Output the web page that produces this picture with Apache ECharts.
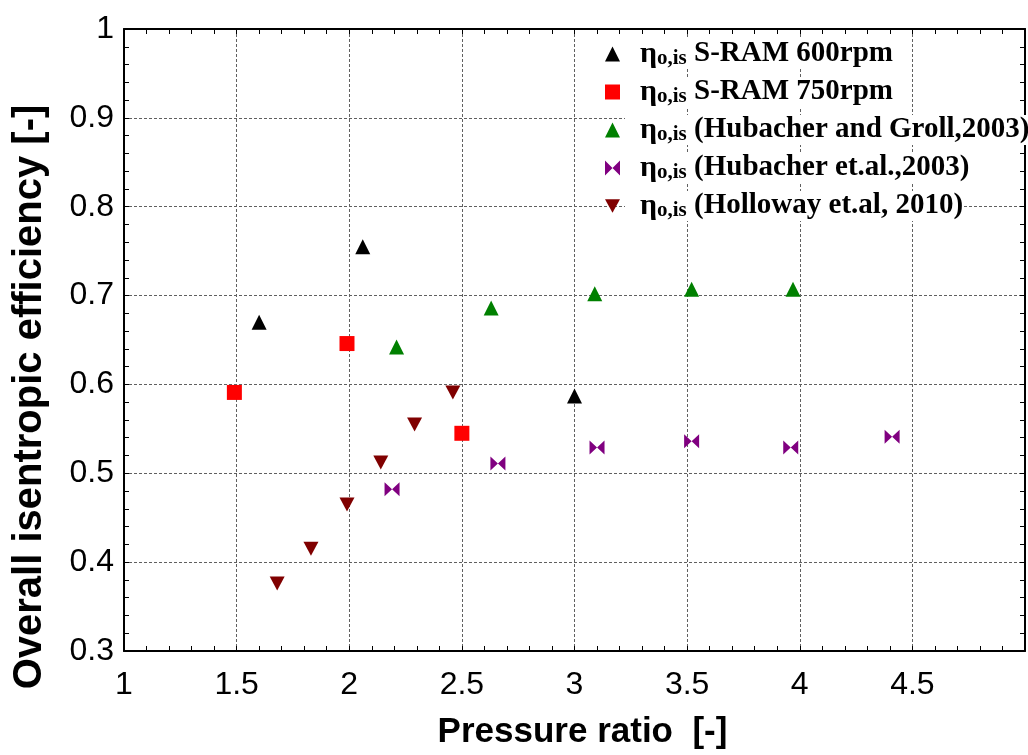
<!DOCTYPE html>
<html>
<head>
<meta charset="utf-8">
<script src="https://cdn.jsdelivr.net/npm/echarts@6/dist/echarts.min.js"></script>
<style>html,body{margin:0;padding:0;background:#fff;}#c{width:1028px;height:755px;}</style>
</head>
<body>
<div id="c"></div>
<script>
// ---- data ----
const seriesNames = ['S-RAM 600rpm', 'S-RAM 750rpm', '(Hubacher and Groll,2003)', '(Hubacher et.al.,2003)', '(Holloway et.al, 2010)'];
const sram600 = [[1.60, 0.670], [2.06, 0.755], [3.00, 0.587]];
const sram750 = [[1.49, 0.591], [1.99, 0.646], [2.50, 0.545]];
const hubacherGroll = [[2.21, 0.642], [2.63, 0.686], [3.09, 0.702], [3.52, 0.707], [3.97, 0.707]];
const hubacherEtAl = [[2.19, 0.482], [2.66, 0.511], [3.10, 0.529], [3.52, 0.536], [3.96, 0.529], [4.41, 0.541]];
const holloway = [[1.68, 0.376], [1.83, 0.415], [1.99, 0.465], [2.14, 0.512], [2.29, 0.555], [2.46, 0.591]];
const xTicks = [1, 1.5, 2, 2.5, 3, 3.5, 4, 4.5];
const yTicks = [0.3, 0.4, 0.5, 0.6, 0.7, 0.8, 0.9, 1];
const xName = 'Pressure ratio  [-]';
const yName = 'Overall isentropic efficiency [-]';

const chart = echarts.init(document.getElementById('c'), null, {renderer: 'canvas'});
const sans = 'Liberation Sans, Arial, sans-serif';
const serif = 'Liberation Serif, Times New Roman, serif';
const DOWN = 'path://M0,0L10,0L5,9Z';
const BOWTIE = 'path://M0,0L10,7L20,0L20,14L10,7L0,14Z';
const BOWTIE_LEG = 'path://M0,0L10,10L20,0L20,20L10,10L0,20Z';

const gridLine = {show: true, lineStyle: {color: '#606060', type: [3, 2], width: 1}};
const axLine = {show: true, onZero: false, lineStyle: {color: '#000', width: 2}};
const tick = {show: true, inside: true, length: 5, lineStyle: {color: '#000', width: 1}};
const minor = {show: true, splitNumber: 5, length: 5, lineStyle: {color: '#000', width: 1}};

function mk(name, data, symbol, color, size) {
  return {name: name, type: 'scatter', data: data, symbol: symbol, symbolSize: size,
    itemStyle: {color: color, opacity: 1}, emphasis: {disabled: true}, z: 5};
}

const legendIcons = ['triangle', 'rect', 'triangle', BOWTIE_LEG, DOWN];

chart.setOption({
  animation: false,
  backgroundColor: '#fff',
  grid: {left: 124, right: 1, top: 29, bottom: 103, containLabel: false},
  xAxis: [{
    type: 'value', min: 1, max: 5, interval: 0.5, position: 'bottom',
    name: xName, nameLocation: 'middle', nameGap: 64,
    nameTextStyle: {fontFamily: sans, fontWeight: 'bold', fontSize: 35, color: '#000', padding: [0, 0, 0, 16]},
    axisLine: axLine, axisTick: tick, minorTick: minor, splitLine: gridLine,
    axisLabel: {fontFamily: sans, fontSize: 32, color: '#000', margin: 18,
      formatter: v => (xTicks.indexOf(v) >= 0 ? String(v) : '')}
  }, {
    type: 'value', min: 1, max: 5, interval: 0.5, position: 'top',
    axisLine: axLine, axisTick: tick, minorTick: minor, splitLine: {show: false}, axisLabel: {show: false}
  }],
  yAxis: [{
    type: 'value', min: 0.3, max: 1, interval: 0.1, position: 'left',
    axisLine: axLine, axisTick: tick, minorTick: minor, splitLine: gridLine,
    axisLabel: {fontFamily: sans, fontSize: 32, color: '#000', margin: 10,
      formatter: v => { const r = Math.round(v * 10) / 10; return yTicks.indexOf(r) >= 0 ? String(r) : ''; }}
  }, {
    type: 'value', min: 0.3, max: 1, interval: 0.1, position: 'right',
    axisLine: axLine, axisTick: tick, minorTick: minor, splitLine: {show: false}, axisLabel: {show: false}
  }],
  legend: {
    orient: 'vertical', left: 583, top: 35, padding: [4, 0, 6, 22],
    itemWidth: 15, itemHeight: 15, itemGap: 8,
    selectedMode: false,
    data: seriesNames.map((n, i) => ({name: n, icon: legendIcons[i]})),
    formatter: n => '{eta|η}{sub|o,is}{main| ' + n + '}',
    textStyle: {
      color: '#000', backgroundColor: '#fff',
      rich: {
        eta: {fontFamily: serif, fontWeight: 'bold', fontSize: 30, lineHeight: 30, padding: [0, 0, 0, 15], verticalAlign: 'middle', color: '#000'},
        sub: {fontFamily: serif, fontWeight: 'bold', fontSize: 21, lineHeight: 19, verticalAlign: 'bottom', color: '#000'},
        main: {fontFamily: serif, fontWeight: 'bold', fontSize: 29, lineHeight: 30, verticalAlign: 'middle', color: '#000'}
      }
    }
  },
  graphic: [{
    type: 'text', x: 30, y: 397, rotation: Math.PI / 2,
    style: {text: yName, fontFamily: sans, fontWeight: 'bold', fontSize: 40, fill: '#000',
      align: 'center', verticalAlign: 'middle'}
  }],
  series: [
    mk(seriesNames[0], sram600, 'triangle', '#000000', 15),
    mk(seriesNames[1], sram750, 'rect', '#ff0000', 15),
    mk(seriesNames[2], hubacherGroll, 'triangle', '#008000', 15),
    mk(seriesNames[3], hubacherEtAl, BOWTIE, '#800080', [15, 14]),
    mk(seriesNames[4], holloway, DOWN, '#800000', [15, 14])
  ]
});
</script>
</body>
</html>
